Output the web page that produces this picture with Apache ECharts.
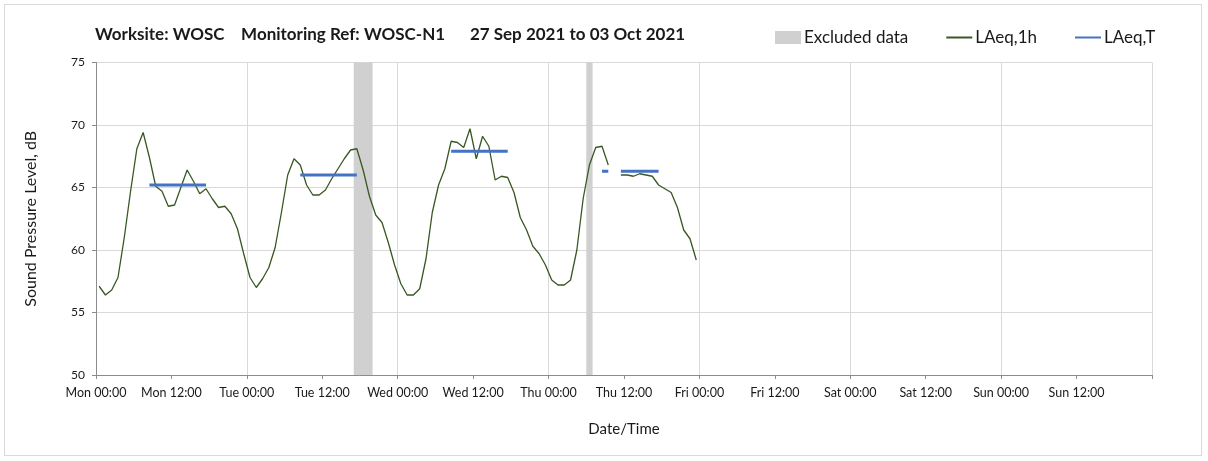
<!DOCTYPE html>
<html>
<head>
<meta charset="utf-8">
<title>WOSC-N1 noise monitoring</title>
<script src="https://cdn.jsdelivr.net/npm/echarts@6/dist/echarts.min.js"></script>
<style>
  html, body { margin: 0; padding: 0; background: #fff; }
  #frame { position: absolute; left: 4px; top: 4px; width: 1198px; height: 452px; border: 1px solid #d9d9d9; box-sizing: border-box; }
  #chart { width: 1208px; height: 461px; }
</style>
</head>
<body>
<div id="frame"></div>
<div id="chart"></div>
<script>
// hours since Mon 00:00, hourly LAeq,1h values (plotted at mid-hour)
const hourOffset = 0.5
const laeq1h = [
  57.1, 56.4, 56.8, 57.8, 61.0, 64.7, 68.1, 69.4, 67.4, 65.1,
  64.7, 63.5, 63.6, 65.0, 66.4, 65.5, 64.5, 64.9, 64.1, 63.4,
  63.5, 62.9, 61.7, 59.7, 57.8, 57.0, 57.7, 58.6, 60.2, 63.0,
  66.0, 67.3, 66.8, 65.2, 64.4, 64.4, 64.8, 65.7, 66.5, 67.3,
  68.0, 68.1, 66.4, 64.3, 62.8, 62.2, 60.6, 58.8, 57.3, 56.4,
  56.4, 56.9, 59.3, 63.0, 65.2, 66.5, 68.7, 68.6, 68.2, 69.7,
  67.3, 69.1, 68.3, 65.6, 65.9, 65.8, 64.6, 62.6, 61.6, 60.3,
  59.7, 58.8, 57.6, 57.2, 57.2, 57.6, 60.0, 64.1, 66.8, 68.2,
  68.3, 66.8, null, 66.0, 66.0, 65.9, 66.1, 66.0, 65.9, 65.2,
  64.9, 64.6, 63.4, 61.6, 60.9, 59.2
]

// LAeq,T periods (hours since Mon 00:00)
const laeqTStart = [8.5, 32.5, 56.5, 80.5, 83.5]
const laeqTEnd = [17.5, 41.5, 65.5, 81.5, 89.5]
const laeqTValue = [65.2, 66.0, 67.9, 66.3, 66.3]

// excluded periods (hours since Mon 00:00)
const excludedStart = [41, 78]
const excludedEnd = [44, 79]

const dayNames = ['Mon', 'Tue', 'Wed', 'Thu', 'Fri', 'Sat', 'Sun']
const yTicks = [50, 55, 60, 65, 70, 75]

const fontFamily = 'Lato, "Open Sans", sans-serif'

const lineData = laeq1h.map((v, i) => [i + hourOffset, v === null ? '-' : v])

const tData = []
laeqTStart.forEach((s, i) => {
  tData.push([s, laeqTValue[i]])
  tData.push([laeqTEnd[i], laeqTValue[i]])
  tData.push([laeqTEnd[i], '-'])
})

const formatTime = (h) => {
  if (h >= 168) return ''
  const d = Math.floor(h / 24)
  const hh = Math.round(h - d * 24)
  return dayNames[d] + ' ' + String(hh).padStart(2, '0') + ':00'
}

const chart = echarts.init(document.getElementById('chart'), null, { renderer: 'canvas' })

const option = {
  animation: false,
  textStyle: { fontFamily: fontFamily },
  title: {
    text: 'Worksite: WOSC    Monitoring Ref: WOSC-N1      27 Sep 2021 to 03 Oct 2021',
    left: 90,
    top: 21,
    textStyle: { fontSize: 17, fontWeight: 'bold', color: '#1a1a1a', fontFamily: fontFamily }
  },
  legend: {
    left: 770,
    top: 24,
    itemWidth: 26,
    itemHeight: 13,
    itemGap: 37,
    textStyle: { fontSize: 17, color: '#1a1a1a', fontFamily: fontFamily, padding: [0, 0, 0, -2] },
    data: [
      { name: 'Excluded data', icon: 'rect' },
      { name: 'LAeq,1h', itemStyle: { opacity: 0 } },
      { name: 'LAeq,T', itemStyle: { opacity: 0 } }
    ]
  },
  grid: { left: 96, right: 56, top: 62.5, bottom: 86 },
  xAxis: [
    {
      type: 'value',
      min: 0,
      max: 168,
      interval: 12,
      name: 'Date/Time',
      nameLocation: 'middle',
      nameGap: 47,
      nameTextStyle: { fontSize: 15, color: '#1a1a1a' },
      axisLine: { lineStyle: { color: '#8c8c8c' } },
      axisTick: { show: true, length: 4, lineStyle: { color: '#8c8c8c' } },
      axisLabel: { fontSize: 12.5, color: '#1a1a1a', margin: 11, formatter: formatTime },
      splitLine: { show: false }
    },
    {
      type: 'value',
      min: 0,
      max: 168,
      interval: 24,
      position: 'bottom',
      axisLine: { show: false },
      axisTick: { show: false },
      axisLabel: { show: false },
      splitLine: { show: true, lineStyle: { color: '#d9d9d9', width: 1 } }
    }
  ],
  yAxis: {
    type: 'value',
    min: yTicks[0],
    max: yTicks[yTicks.length - 1],
    interval: 5,
    name: 'Sound Pressure Level, dB',
    nameLocation: 'middle',
    nameGap: 57,
    nameTextStyle: { fontSize: 16, color: '#1a1a1a' },
    axisLine: { show: true, lineStyle: { color: '#8c8c8c' } },
    axisTick: { show: true, length: 4, lineStyle: { color: '#8c8c8c' } },
    axisLabel: { fontSize: 12, color: '#1a1a1a', margin: 11 },
    splitLine: { lineStyle: { color: '#d9d9d9' } }
  },
  series: [
    {
      name: 'Excluded data',
      type: 'line',
      data: [],
      symbol: 'none',
      itemStyle: { color: '#d0d0d0' },
      lineStyle: { color: '#d0d0d0' },
      markArea: {
        silent: true,
        itemStyle: { color: '#d0d0d0' },
        data: excludedStart.map((s, i) => [{ xAxis: s }, { xAxis: excludedEnd[i] }])
      }
    },
    {
      name: 'LAeq,1h',
      type: 'line',
      data: lineData,
      symbol: 'none',
      connectNulls: false,
      itemStyle: { color: '#385723' },
      lineStyle: { color: '#385723', width: 1.3 },
      z: 3
    },
    {
      name: 'LAeq,T',
      type: 'line',
      data: tData,
      symbol: 'none',
      connectNulls: false,
      itemStyle: { color: '#4472c4' },
      lineStyle: { color: '#4472c4', width: 3 },
      z: 4
    }
  ]
}

chart.setOption(option)
</script>
</body>
</html>
